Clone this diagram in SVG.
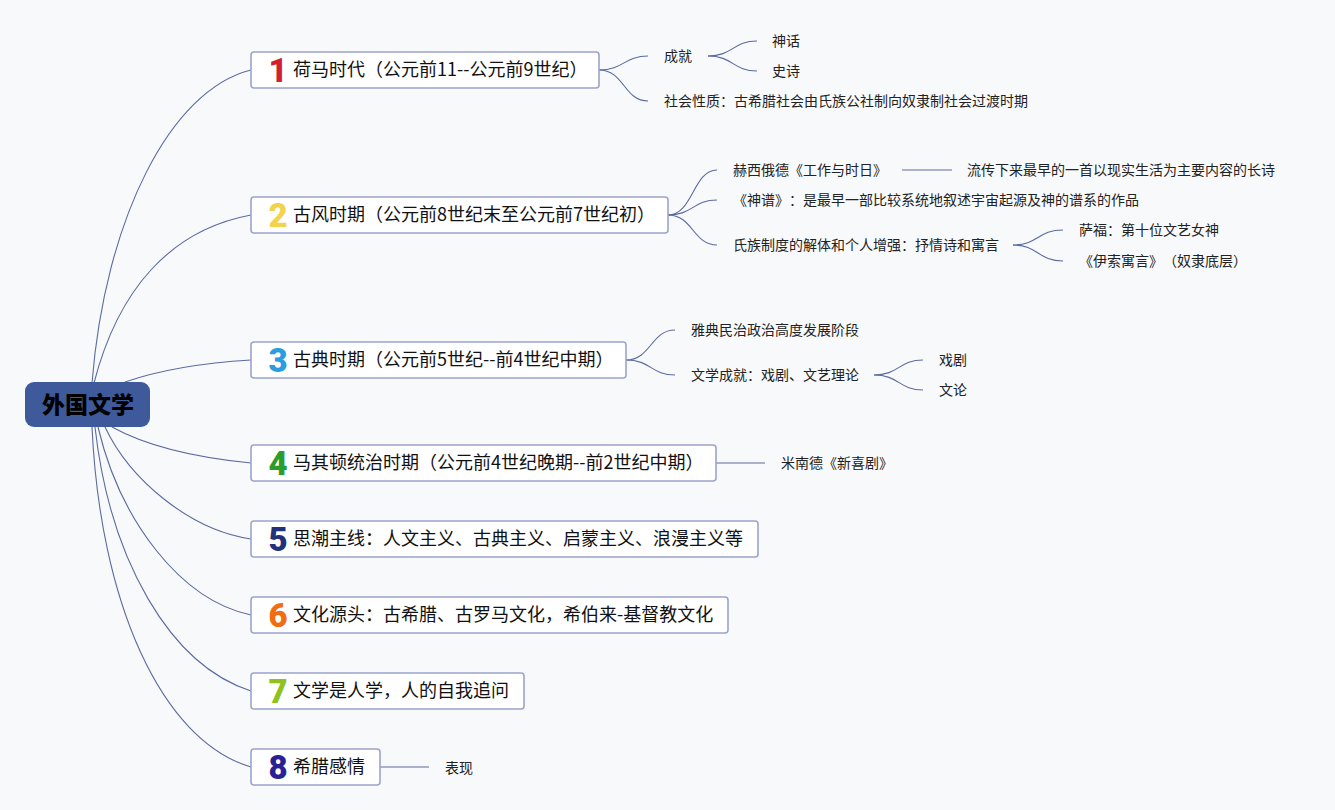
<svg xmlns="http://www.w3.org/2000/svg" width="1335" height="810" viewBox="0 0 1335 810">
<style>
text{text-spacing-trim:space-all}
.bg{fill:#f8f9fb}
.root{fill:#3f5a9b}
.rt{font-family:"Noto Sans CJK SC","Noto Sans",sans-serif;font-size:23px;font-weight:900;fill:#000;text-anchor:middle}
.box{fill:#fff;stroke:#9ba4cb;stroke-width:1.6}
.bt{font-family:"Noto Sans CJK SC","Noto Sans",sans-serif;font-size:18px;fill:#111}
.num{font-family:Roboto,"Open Sans",sans-serif;font-size:33px;font-weight:900;text-anchor:middle}
.st{font-family:"Noto Sans CJK SC","Noto Sans",sans-serif;font-size:14px;fill:#222}
.c{fill:none;stroke:#5b6a9f;stroke-width:1.1}
</style>
<rect class="bg" x="0" y="0" width="1335" height="810"/>
<g id="connectors">
<path class="c" d="M92,383 C105,220 170,90 251,70"/>
<path class="c" d="M94,383 C118,290 170,230 251,215"/>
<path class="c" d="M125,382 C160,370 200,363 251,360"/>
<path class="c" d="M112,427 C150,448 200,458 251,463"/>
<path class="c" d="M105,427 C130,480 190,530 251,539"/>
<path class="c" d="M98,427 C120,520 180,600 251,615"/>
<path class="c" d="M95,427 C110,560 170,665 251,691"/>
<path class="c" d="M92,427 C100,600 160,740 251,767"/>
<path class="c" d="M599,70 C624,70 624,56 648,56"/>
<path class="c" d="M599,70 C624,70 624,101 648,101"/>
<path class="c" d="M708,56 C733,56 733,41 757,41"/>
<path class="c" d="M708,56 C733,56 733,71 757,71"/>
<path class="c" d="M668,215 C693,215 693,170 717,170"/>
<path class="c" d="M668,215 C693,215 693,200 717,200"/>
<path class="c" d="M668,215 C693,215 693,245 717,245"/>
<path class="c" d="M902,170 L952,170"/>
<path class="c" d="M1013,245 C1038,245 1038,230 1063,230"/>
<path class="c" d="M1013,245 C1038,245 1038,261 1063,261"/>
<path class="c" d="M626,360 C651,360 651,330 675,330"/>
<path class="c" d="M626,360 C651,360 651,375 675,375"/>
<path class="c" d="M874,375 C899,375 899,360 923,360"/>
<path class="c" d="M874,375 C899,375 899,390 923,390"/>
<path class="c" d="M716,463 L765,463"/>
<path class="c" d="M380,767 L429,767"/>
</g>
<g id="root">
<rect class="root" x="25" y="382" width="125" height="45" rx="9"/>
<text class="rt" x="88" y="413">外国文学</text>
</g>
<g id="b1">
<rect class="box" x="251" y="52" width="348" height="36" rx="3"/>
<text class="num" x="278" y="82" fill="#d21f30">1</text>
<text class="bt" x="293" y="76">荷马时代（公元前11--公元前9世纪）</text>
</g>
<g id="b2">
<rect class="box" x="251" y="197" width="417" height="36" rx="3"/>
<text class="num" x="278" y="227" fill="#f4d34c">2</text>
<text class="bt" x="293" y="221">古风时期（公元前8世纪末至公元前7世纪初）</text>
</g>
<g id="b3">
<rect class="box" x="251" y="342" width="375" height="36" rx="3"/>
<text class="num" x="278" y="372" fill="#2a9de0">3</text>
<text class="bt" x="293" y="366">古典时期（公元前5世纪--前4世纪中期）</text>
</g>
<g id="b4">
<rect class="box" x="251" y="445" width="465" height="36" rx="3"/>
<text class="num" x="278" y="475" fill="#2b9d2e">4</text>
<text class="bt" x="293" y="469">马其顿统治时期（公元前4世纪晚期--前2世纪中期）</text>
</g>
<g id="b5">
<rect class="box" x="251" y="521" width="507" height="36" rx="3"/>
<text class="num" x="278" y="551" fill="#23307a">5</text>
<text class="bt" x="293" y="545">思潮主线：人文主义、古典主义、启蒙主义、浪漫主义等</text>
</g>
<g id="b6">
<rect class="box" x="251" y="597" width="477" height="36" rx="3"/>
<text class="num" x="278" y="627" fill="#f26d12">6</text>
<text class="bt" x="293" y="621">文化源头：古希腊、古罗马文化，希伯来-基督教文化</text>
</g>
<g id="b7">
<rect class="box" x="251" y="673" width="273" height="36" rx="3"/>
<text class="num" x="278" y="703" fill="#8fc21e">7</text>
<text class="bt" x="293" y="697">文学是人学，人的自我追问</text>
</g>
<g id="b8">
<rect class="box" x="251" y="749" width="129" height="36" rx="3"/>
<text class="num" x="278" y="779" fill="#2a1f94">8</text>
<text class="bt" x="293" y="773">希腊感情</text>
</g>
<g id="s1a"><text class="st" x="664" y="61">成就</text></g>
<g id="s1a1"><text class="st" x="772" y="46">神话</text></g>
<g id="s1a2"><text class="st" x="772" y="76">史诗</text></g>
<g id="s1b"><text class="st" x="664" y="106">社会性质：古希腊社会由氏族公社制向奴隶制社会过渡时期</text></g>
<g id="s2a"><text class="st" x="733" y="175">赫西俄德《工作与时日》</text></g>
<g id="s2a1"><text class="st" x="967" y="175">流传下来最早的一首以现实生活为主要内容的长诗</text></g>
<g id="s2b"><text class="st" x="733" y="205">《神谱》：是最早一部比较系统地叙述宇宙起源及神的谱系的作品</text></g>
<g id="s2c"><text class="st" x="733" y="250">氏族制度的解体和个人增强：抒情诗和寓言</text></g>
<g id="s2c1"><text class="st" x="1079" y="235">萨福：第十位文艺女神</text></g>
<g id="s2c2"><text class="st" x="1079" y="266">《伊索寓言》（奴隶底层）</text></g>
<g id="s3a"><text class="st" x="691" y="335">雅典民治政治高度发展阶段</text></g>
<g id="s3b"><text class="st" x="691" y="380">文学成就：戏剧、文艺理论</text></g>
<g id="s3b1"><text class="st" x="939" y="365">戏剧</text></g>
<g id="s3b2"><text class="st" x="939" y="395">文论</text></g>
<g id="s4a"><text class="st" x="781" y="468">米南德《新喜剧》</text></g>
<g id="s8a"><text class="st" x="445" y="773">表现</text></g>
</svg>
